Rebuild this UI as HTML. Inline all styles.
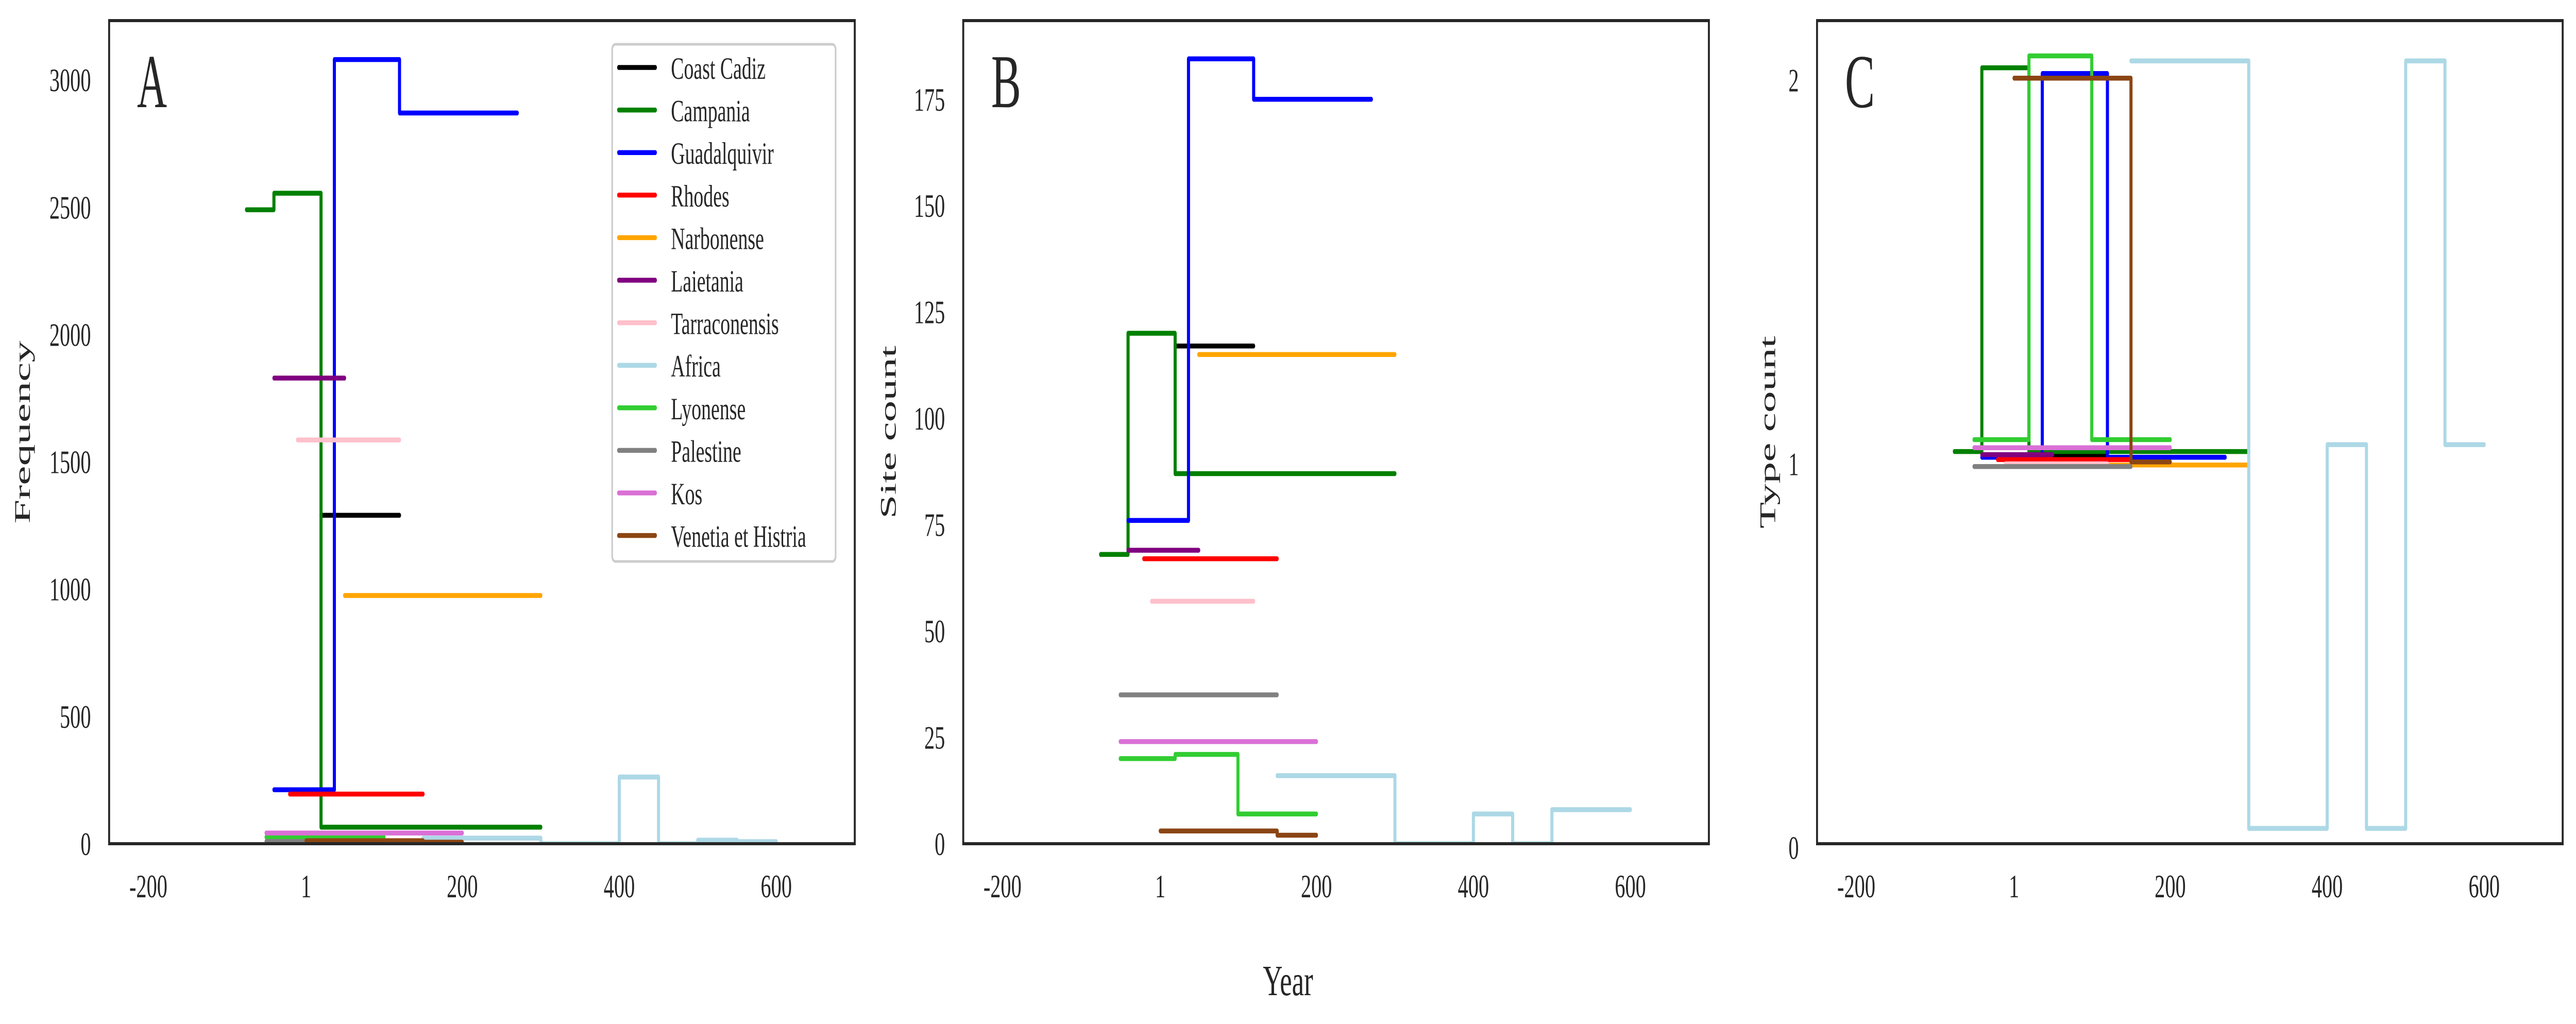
<!DOCTYPE html>
<html><head><meta charset="utf-8">
<style>
html,body{margin:0;padding:0;background:#fff;width:100%;height:100%;overflow:hidden;}
svg{display:block;width:100vw;height:100vh;font-family:"Liberation Serif","DejaVu Serif",serif;}
</style></head><body>
<svg id="fig" viewBox="0 0 7932 1988" preserveAspectRatio="none" xmlns="http://www.w3.org/2000/svg">
<rect x="0" y="0" width="7932" height="1988" fill="#fff"/>
<text x="3966" y="1932" font-size="84" text-anchor="middle" fill="#262626">Year</text>
</svg>
<script>
// ---- data ----
const seriesNames = ["Coast Cadiz","Campania","Guadalquivir","Rhodes","Narbonense","Laietania","Tarraconensis","Africa","Lyonense","Palestine","Kos","Venetia et Histria"];
const seriesColors = ["#000000","#008000","#0000ff","#ff0000","#ffa500","#800080","#ffc0cb","#add8e6","#32cd32","#808080","#da70d6","#8b4513"];
const xTicks = [-200, 1, 200, 400, 600];
const xTickLabels = ["-200","1","200","400","600"];

// step edges (years) per series
const edgesCadiz = [20,120];
const edgesCampania = [-75,-40,20,300];
const edgesGuad = [-40,37,120,270];
const edgesRhodes = [-20,150];
const edgesNarb = [50,300];
const edgesLaiet = [-40,50];
const edgesTarr = [-10,120];
const edgesAfrica = [150,300,400,450,500,550,600];
const edgesLyon = [-50,20,100,200];
const edgesPal = [-50,150];
const edgesKos = [-50,200];
const edgesVen = [1,150,200];

// Panel A: frequency
const freqCadiz = [1290];
const freqCampania = [2490,2555,65];
const freqGuad = [212,3080,2870];
const freqRhodes = [195];
const freqNarb = [975];
const freqLaiet = [1829];
const freqTarr = [1586];
const freqAfrica = [22,0,262,0,14,8];
const freqLyon = [26,28,0];
const freqPal = [9];
const freqKos = [42];
const freqVen = [12,6];

// Panel B: site count
const siteCadiz = [117];
const siteCampania = [68,120,87];
const siteGuad = [76,184.5,175];
const siteRhodes = [67];
const siteNarb = [115];
const siteLaiet = [69];
const siteTarr = [57];
const siteAfrica = [16,0,7,0,8,8];
const siteLyon = [20,21,7];
const sitePal = [35];
const siteKos = [24];
const siteVen = [3,2];

// Panel C: type count
const typeCadiz = [1.02];
const typeCampania = [1.032,2.032,1.032];
const typeGuad = [1.017,2.017,1.017];
const typeRhodes = [1.011];
const typeNarb = [0.997];
const typeLaiet = [1.024];
const typeTarr = [1.0];
const typeAfrica = [2.05,0.05,1.05,0.05,2.05,1.05];
const typeLyon = [1.063,2.063,1.063];
const typePal = [0.993];
const typeKos = [1.042];
const typeVen = [2.005,1.005];

const yTicksA = [0,500,1000,1500,2000,2500,3000];
const yTicksB = [0,25,50,75,100,125,150,175];
const yTicksC = [0,1,2];

const NS = "http://www.w3.org/2000/svg";
const svg = document.getElementById("fig");
function mk(tag, attrs, parent){
  const e = document.createElementNS(NS, tag);
  for (const k in attrs) e.setAttribute(k, attrs[k]);
  (parent||svg).appendChild(e);
  return e;
}
const TOP = 40, BOT = 1638;
const XMIN = -250, XMAX = 700;

function panel(opts){
  const L = opts.left, R = opts.left + 2296;
  const xs = v => L + (v - XMIN) / (XMAX - XMIN) * (R - L);
  const ys = v => BOT - (v - opts.ymin) / (opts.ymax - opts.ymin) * (BOT - TOP);
  const g = mk("g", {});
  
  
  const clipId = opts.name + "-clip";
  const cp = mk("clipPath", {id: clipId}, g);
  mk("rect", {x: L, y: TOP, width: R - L, height: BOT - TOP}, cp);
  const lines = mk("g", {"clip-path": "url(#" + clipId + ")"}, g);
  
  
  opts.series.forEach((s, i) => {
    const edges = s[0], vals = s[1];
    let d = "";
    for (let k = 0; k < vals.length; k++) {
      const x0 = xs(edges[k]), x1 = xs(edges[k+1]), y = ys(vals[k]);
      d += (k === 0 ? "M" : "L") + x0.toFixed(1) + "," + y.toFixed(1) + "L" + x1.toFixed(1) + "," + y.toFixed(1);
    }
    const p = mk("path", {d: d, fill: "none", stroke: seriesColors[i], "stroke-width": 9.5, "stroke-linecap": "round", "stroke-linejoin": "round"}, lines);
    
    
  });
  const fr = mk("rect", {x: L, y: TOP, width: R - L, height: BOT - TOP, fill: "none", stroke: "#262626", "stroke-width": 6}, g);
  
  
  xTicks.forEach((v, i) => {
    const t = mk("text", {x: xs(v), y: 1742, "font-size": 64, "text-anchor": "middle", fill: "#262626"}, g);
    t.textContent = xTickLabels[i];
    
    
  });
  opts.yticks.forEach(v => {
    const t = mk("text", {x: L - 56, y: ys(v) + 22, "font-size": 64, "text-anchor": "end", fill: "#262626"}, g);
    t.textContent = String(v);
    
    
  });
  const yl = mk("text", {x: 0, y: 0, "font-size": 68, "text-anchor": "middle", fill: "#262626", transform: "translate(" + opts.ylabelX + "," + ((TOP + BOT) / 2) + ") rotate(-90)", textLength: opts.ylabelLen, lengthAdjust: "spacingAndGlyphs"}, g);
  yl.textContent = opts.ylabel;
  
  
  const letter = mk("text", {x: L + 86, y: 208, "font-size": 148, fill: "#262626", textLength: 92, lengthAdjust: "spacingAndGlyphs"}, g);
  letter.textContent = opts.letter;
  
  
  return {L: L, R: R, g: g};
}

const pA = panel({name: "panel-a-frequency", left: 336, ymin: 0, ymax: 3233, yticks: yTicksA, ylabel: "Frequency", ylabelX: 92, ylabelLen: 355, letter: "A",
  series: [[edgesCadiz,freqCadiz],[edgesCampania,freqCampania],[edgesGuad,freqGuad],[edgesRhodes,freqRhodes],[edgesNarb,freqNarb],[edgesLaiet,freqLaiet],[edgesTarr,freqTarr],[edgesAfrica,freqAfrica],[edgesLyon,freqLyon],[edgesPal,freqPal],[edgesKos,freqKos],[edgesVen,freqVen]]});
panel({name: "panel-b-site-count", left: 2966, ymin: 0, ymax: 193.5, yticks: yTicksB, ylabel: "Site count", ylabelX: 2758, ylabelLen: 336, letter: "B",
  series: [[edgesCadiz,siteCadiz],[edgesCampania,siteCampania],[edgesGuad,siteGuad],[edgesRhodes,siteRhodes],[edgesNarb,siteNarb],[edgesLaiet,siteLaiet],[edgesTarr,siteTarr],[edgesAfrica,siteAfrica],[edgesLyon,siteLyon],[edgesPal,sitePal],[edgesKos,siteKos],[edgesVen,siteVen]]});
panel({name: "panel-c-type-count", left: 5595, ymin: 0.01, ymax: 2.155, yticks: yTicksC, ylabel: "Type count", ylabelX: 5466, ylabelLen: 374, letter: "C",
  series: [[edgesCadiz,typeCadiz],[edgesCampania,typeCampania],[edgesGuad,typeGuad],[edgesRhodes,typeRhodes],[edgesNarb,typeNarb],[edgesLaiet,typeLaiet],[edgesTarr,typeTarr],[edgesAfrica,typeAfrica],[edgesLyon,typeLyon],[edgesPal,typePal],[edgesKos,typeKos],[edgesVen,typeVen]]});

const lg = mk("g", {}, pA.g);


mk("rect", {x: 1885, y: 86, width: 688, height: 1004, rx: 10, fill: "#fff", "fill-opacity": 0.85, stroke: "#cccccc", "stroke-width": 5}, lg);
seriesNames.forEach((n, i) => {
  const y = 131 + i * 82.6;
  const e = mk("g", {}, lg);
  
  
  mk("line", {x1: 1905, y1: y, x2: 2018, y2: y, stroke: seriesColors[i], "stroke-width": 9.5, "stroke-linecap": "round"}, e);
  const t = mk("text", {x: 2066, y: y + 22, "font-size": 60, fill: "#262626"}, e);
  t.textContent = n;
});
</script>
</body></html>
